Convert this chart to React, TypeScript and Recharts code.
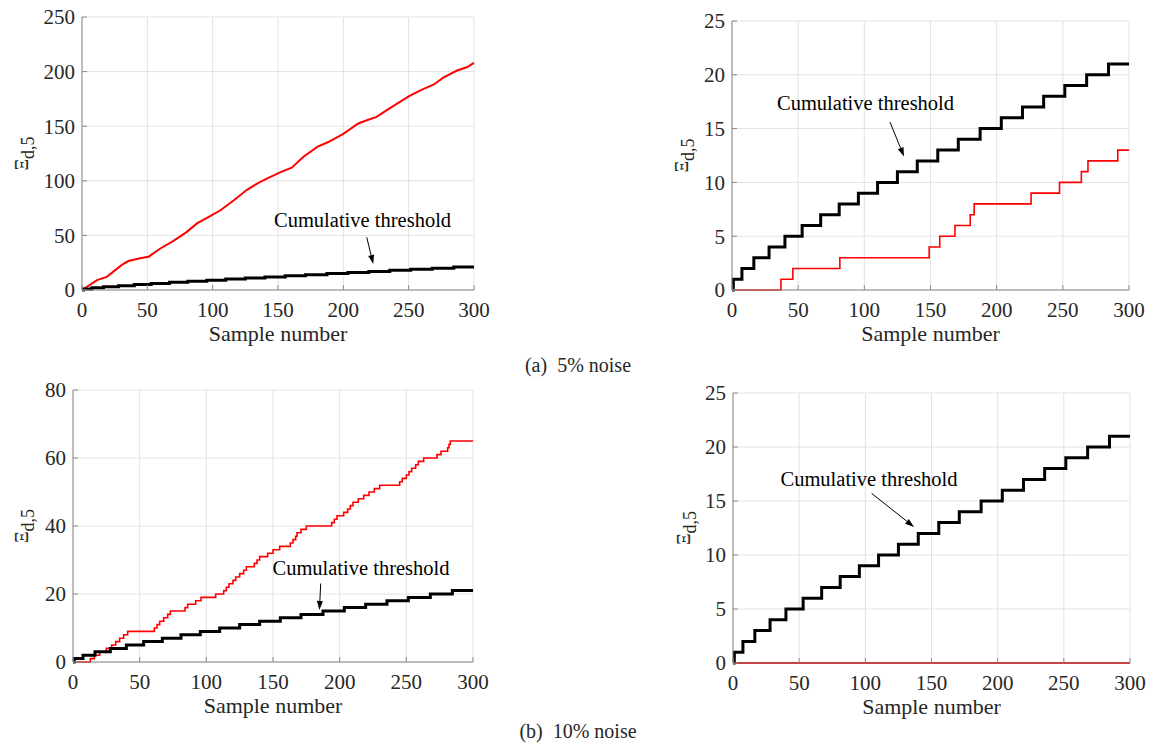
import React from "react"
import { LineChart, Line, XAxis, YAxis, CartesianGrid, ReferenceLine, ReferenceDot } from "recharts"

const FONT = '"Liberation Serif", "Times New Roman", serif'
const AXIS = "#8a8a8a"
const TEXT = "#262626"
const GRID = "#e2e2e2"

const sampleTicks = [0, 50, 100, 150, 200, 250, 300]

// cumulative threshold (same in all four panels)
const thresholdX = [0, 1, 7.5, 16.5, 28, 40, 53, 67, 81, 95.5, 110, 125, 140, 155.5, 171, 187.5, 203.5, 219.5, 235.5, 251.5, 268, 284.5, 300]
const thresholdY = [0, 1, 2, 3, 4, 5, 6, 7, 8, 9, 10, 11, 12, 13, 14, 15, 16, 17, 18, 19, 20, 21, 21]

// (a) 5% noise, left panel
const noise5LeftX = [0, 11.5, 19, 30.5, 35.5, 44.5, 51, 60, 70, 80, 88, 97, 106, 116, 126, 134, 141.5, 152, 160.5, 169.5, 180, 188.5, 200, 211.5, 218, 225.5, 233, 243, 251, 261, 269, 276.5, 287, 294.5, 300]
const noise5LeftY = [0, 9, 12, 23, 26.5, 29, 30.5, 38, 45, 53, 61, 67, 73, 82, 91.5, 97.5, 102, 108, 112, 122, 131, 135.5, 143, 152.5, 155.5, 158.5, 164.5, 172, 178, 184, 188, 194.5, 201, 204, 208]

// (a) 5% noise, right panel
const noise5RightX = [0, 37, 46, 81.5, 149, 157, 168.5, 180, 183, 226, 247.5, 264, 269, 291.5, 300]
const noise5RightY = [0, 1, 2, 3, 4, 5, 6, 7, 8, 9, 10, 11, 12, 13, 13]

// (b) 10% noise, left panel
const noise10LeftX = [0, 13, 16, 20, 25, 29, 32, 35, 38, 41, 61, 63, 65, 68, 71, 73, 84, 86, 92, 96, 107, 113, 115, 117, 120, 122, 125, 128, 130, 136, 138, 140, 146, 150, 155, 163, 165, 167, 168, 171, 175, 194, 196, 198, 203, 206, 208, 210, 214, 218, 222, 226, 230, 245, 247, 250, 252, 254, 257, 259, 263, 273, 276, 281, 282, 283, 300]
const noise10LeftY = [0, 1, 2, 3, 4, 5, 6, 7, 8, 9, 10, 11, 12, 13, 14, 15, 16, 17, 18, 19, 20, 21, 22, 23, 24, 25, 26, 27, 28, 29, 30, 31, 32, 33, 34, 35, 36, 37, 38, 39, 40, 41, 42, 43, 44, 45, 46, 47, 48, 49, 50, 51, 52, 53, 54, 55, 56, 57, 58, 59, 60, 61, 62, 63, 64, 65, 65]

// (b) 10% noise, right panel
const noise10RightX = [0, 300]
const noise10RightY = [0, 0]

const ticks250 = [0, 50, 100, 150, 200, 250]
const ticks25 = [0, 5, 10, 15, 20, 25]
const ticks80 = [0, 20, 40, 60, 80]

const toPoints = (xs: number[], ys: number[]) => xs.map((x, i) => ({ x, y: ys[i] }))

const Arrow = (props: any) => {
  const { x1, y1, x2, y2 } = props
  const ang = Math.atan2(y2 - y1, x2 - x1)
  const len = 9
  const half = 3
  const bx = x2 - len * Math.cos(ang)
  const by = y2 - len * Math.sin(ang)
  const px = -Math.sin(ang) * half
  const py = Math.cos(ang) * half
  return (
    <g>
      <line x1={x1} y1={y1} x2={bx} y2={by} stroke="#000" strokeWidth={1} />
      <polygon points={`${x2},${y2} ${bx + px},${by + py} ${bx - px},${by - py}`} fill="#000" />
    </g>
  )
}

interface PanelProps {
  left: number
  top: number
  width: number
  height: number
  margin: { top: number; right: number; bottom: number; left: number }
  yMax: number
  yTicks: number[]
  redX: number[]
  redY: number[]
  redType: "linear" | "stepAfter"
  redWidth: number
  yLabelX: number
  note: { x: number; y: number }
  arrow: [{ x: number; y: number }, { x: number; y: number }]
}

const Panel = (p: PanelProps) => {
  const plotH = p.height - p.margin.top - p.margin.bottom - 30
  const cy = p.margin.top + plotH / 2
  const yLabel = () => (
    <text
      x={p.yLabelX}
      y={cy}
      transform={`rotate(-90 ${p.yLabelX} ${cy})`}
      textAnchor="middle"
      fontFamily={FONT}
      fontSize={18}
      fill={TEXT}
    >
      Ξ<tspan dy={6} fontSize={18}>d,5</tspan>
    </text>
  )
  const tickStyle = { fill: TEXT, fontSize: 21, fontFamily: FONT }
  return (
    <div style={{ position: "absolute", left: p.left, top: p.top }}>
      <LineChart width={p.width} height={p.height} margin={p.margin}>
        <CartesianGrid stroke={GRID} />
        <XAxis
          dataKey="x"
          type="number"
          domain={[0, 300]}
          ticks={sampleTicks}
          interval={0}
          height={30}
          stroke={AXIS}
          tickSize={-5}
          tickMargin={17}
          tick={tickStyle}
          label={{ value: "Sample number", position: "bottom", offset: 5, fill: TEXT, fontSize: 22, fontFamily: FONT }}
        />
        <XAxis xAxisId="top" orientation="top" type="number" domain={[0, 300]} ticks={sampleTicks} interval={0} height={0} stroke={AXIS} tickSize={-5} tick={() => null} />
        <YAxis
          type="number"
          domain={[0, p.yMax]}
          ticks={p.yTicks}
          interval={0}
          width={60}
          stroke={AXIS}
          tickSize={-5}
          tickMargin={12}
          tick={tickStyle}
          label={yLabel}
        />
        <YAxis yAxisId="right" orientation="right" type="number" domain={[0, p.yMax]} ticks={p.yTicks} interval={0} width={0} stroke={AXIS} tickSize={-5} tick={() => null} />
        <Line
          data={toPoints(p.redX, p.redY)}
          dataKey="y"
          type={p.redType}
          stroke="#ff0000"
          strokeWidth={p.redWidth}
          dot={false}
          activeDot={false}
          isAnimationActive={false}
        />
        <Line
          data={toPoints(thresholdX, thresholdY)}
          dataKey="y"
          type="stepAfter"
          stroke="#000000"
          strokeWidth={3}
          dot={false}
          activeDot={false}
          isAnimationActive={false}
        />
        <ReferenceLine segment={p.arrow} shape={Arrow} ifOverflow="visible" />
        <ReferenceDot
          x={p.note.x}
          y={p.note.y}
          r={0}
          fill="none"
          stroke="none"
          ifOverflow="visible"
          label={{ value: "Cumulative threshold", position: "center", fill: "#000", fontSize: 20.5, fontFamily: FONT }}
        />
      </LineChart>
    </div>
  )
}

const captionStyle: React.CSSProperties = {
  position: "absolute",
  left: 478,
  width: 200,
  textAlign: "center",
  fontFamily: FONT,
  fontSize: 20,
  color: TEXT,
  whiteSpace: "pre",
  lineHeight: "24px",
}

export default function App() {
  return (
    <div style={{ position: "absolute", left: 0, top: 0, width: 1150, height: 750, background: "#fff", overflow: "hidden" }}>
      <Panel
        left={0}
        top={0}
        width={490}
        height={350}
        margin={{ top: 17, right: 16, bottom: 30, left: 22 }}
        yMax={250}
        yTicks={ticks250}
        redX={noise5LeftX}
        redY={noise5LeftY}
        redType="linear"
        redWidth={2}
        yLabelX={28}
        note={{ x: 214.7, y: 64 }}
        arrow={[{ x: 217.9, y: 48.3 }, { x: 222.9, y: 23.8 }]}
      />
      <Panel
        left={640}
        top={0}
        width={510}
        height={350}
        margin={{ top: 21, right: 21, bottom: 30, left: 32 }}
        yMax={25}
        yTicks={ticks25}
        redX={noise5RightX}
        redY={noise5RightY}
        redType="stepAfter"
        redWidth={1.6}
        yLabelX={48}
        note={{ x: 100.9, y: 17.4 }}
        arrow={[{ x: 119.4, y: 15.6 }, { x: 130, y: 12.4 }]}
      />
      <div style={{ ...captionStyle, top: 353 }}>{"(a)  5% noise"}</div>
      <Panel
        left={0}
        top={375}
        width={490}
        height={375}
        margin={{ top: 15, right: 17, bottom: 58, left: 13 }}
        yMax={80}
        yTicks={ticks80}
        redX={noise10LeftX}
        redY={noise10LeftY}
        redType="stepAfter"
        redWidth={1.6}
        yLabelX={28}
        note={{ x: 216, y: 27.6 }}
        arrow={[{ x: 185.8, y: 23.1 }, { x: 184.8, y: 15.3 }]}
      />
      <Panel
        left={640}
        top={375}
        width={510}
        height={375}
        margin={{ top: 18, right: 20, bottom: 57, left: 33 }}
        yMax={25}
        yTicks={ticks25}
        redX={noise10RightX}
        redY={noise10RightY}
        redType="stepAfter"
        redWidth={2}
        yLabelX={50}
        note={{ x: 102.8, y: 17.1 }}
        arrow={[{ x: 104.8, y: 15.7 }, { x: 136.8, y: 12.6 }]}
      />
      <div style={{ ...captionStyle, top: 719 }}>{"(b)  10% noise"}</div>
    </div>
  )
}
